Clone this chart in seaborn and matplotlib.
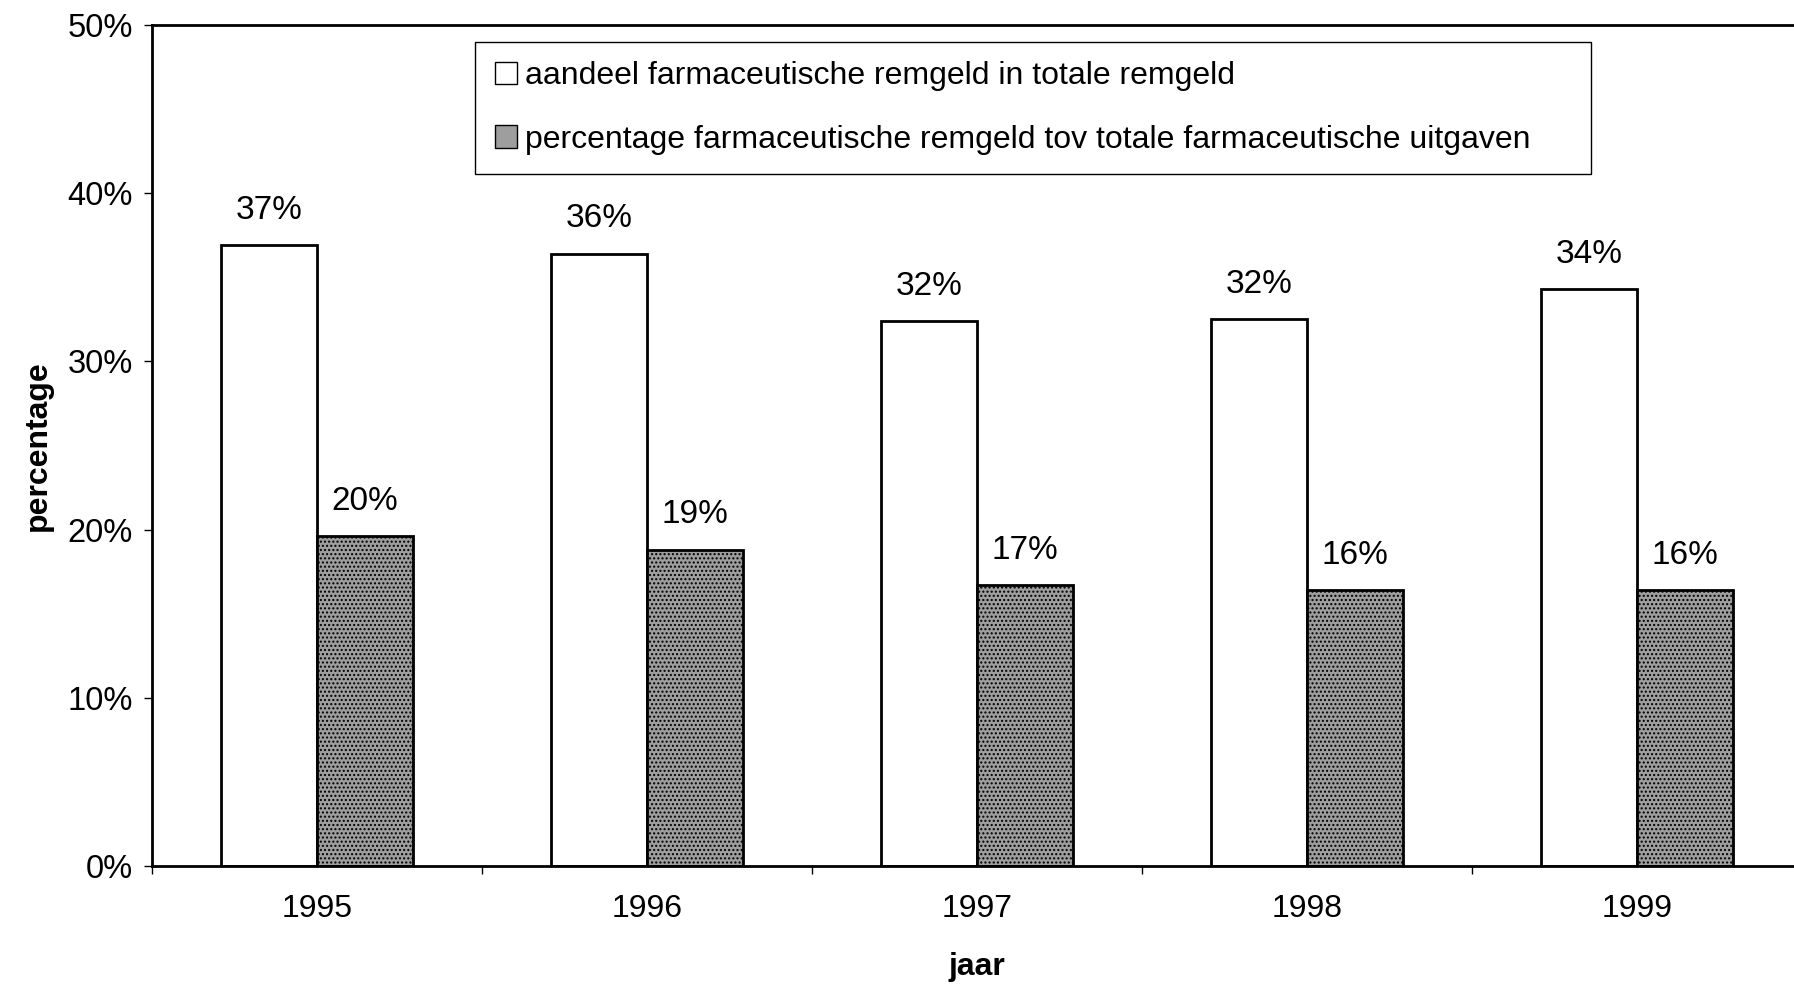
import pandas as pd
import numpy as np
import matplotlib
matplotlib.use("Agg")
import matplotlib.pyplot as plt
import seaborn as sns
from matplotlib.ticker import FixedLocator, PercentFormatter

jaren = ["1995", "1996", "1997", "1998", "1999"]
reeks_namen = [
    "aandeel farmaceutische remgeld in totale remgeld",
    "percentage farmaceutische remgeld tov totale farmaceutische uitgaven",
]
aandeel_totaal = [36.9, 36.4, 32.4, 32.5, 34.3]
aandeel_farma = [19.6, 18.8, 16.7, 16.4, 16.4]
kleuren = ["white", "#9e9e9e"]

sns.set_theme(style="white")
plt.rcParams["font.family"] = ["Liberation Sans", "DejaVu Sans"]
plt.rcParams["text.color"] = "black"
plt.rcParams["xtick.color"] = "black"
plt.rcParams["ytick.color"] = "black"
plt.rcParams["axes.labelcolor"] = "black"
plt.rcParams["hatch.color"] = "#505050"
plt.rcParams["hatch.linewidth"] = 1.0

df = pd.DataFrame({
    "jaar": jaren * 2,
    "waarde": aandeel_totaal + aandeel_farma,
    "reeks": [reeks_namen[0]] * len(jaren) + [reeks_namen[1]] * len(jaren),
})

fig = plt.figure(figsize=(17.94, 9.96), dpi=100)
ax = fig.add_axes([152 / 1794, 130 / 996, 1650 / 1794, 841 / 996])

sns.barplot(data=df, x="jaar", y="waarde", hue="reeks", palette=kleuren,
            edgecolor="black", linewidth=2, width=0.58, ax=ax)

# stippled texture on the grey series, like the scanned print
for bar in ax.containers[1]:
    bar.set_hatch("....")

for cont in ax.containers:
    ax.bar_label(cont, labels=[f"{round(v)}%" for v in cont.datavalues],
                 padding=14, fontsize=24)

ax.set_ylim(0, 50)
ax.set_xlim(-0.5, 4.5)
ax.yaxis.set_major_locator(FixedLocator(np.arange(0, 51, 10)))
ax.yaxis.set_major_formatter(PercentFormatter(decimals=0))
ax.xaxis.set_minor_locator(FixedLocator(np.arange(-0.5, 5, 1)))
ax.tick_params(axis="x", which="major", length=0, pad=20, labelsize=23)
ax.tick_params(axis="x", which="minor", length=6, width=1, direction="out", bottom=True)
ax.tick_params(axis="y", length=6, width=1, direction="out", left=True, pad=8, labelsize=23.5)

for side in ["left", "bottom", "top"]:
    ax.spines[side].set_linewidth(2)
    ax.spines[side].set_color("black")
ax.spines["right"].set_visible(False)

ax.set_ylabel("percentage", fontsize=23, fontweight="bold", labelpad=10)
ax.set_xlabel("jaar", fontsize=23, fontweight="bold", labelpad=20)

leg = ax.legend(loc="upper left", bbox_to_anchor=(0.196, 0.5, 0.676, 0.48),
                mode="expand", fontsize=23,
                frameon=True, fancybox=False, edgecolor="black", framealpha=1,
                handlelength=0.7, handleheight=0.7, handletextpad=0.25,
                borderpad=0.6, labelspacing=1.05, borderaxespad=0)
leg.get_frame().set_linewidth(1)
for h in leg.legend_handles:
    h.set_linewidth(1)

fig.savefig("out.png", dpi=100)
